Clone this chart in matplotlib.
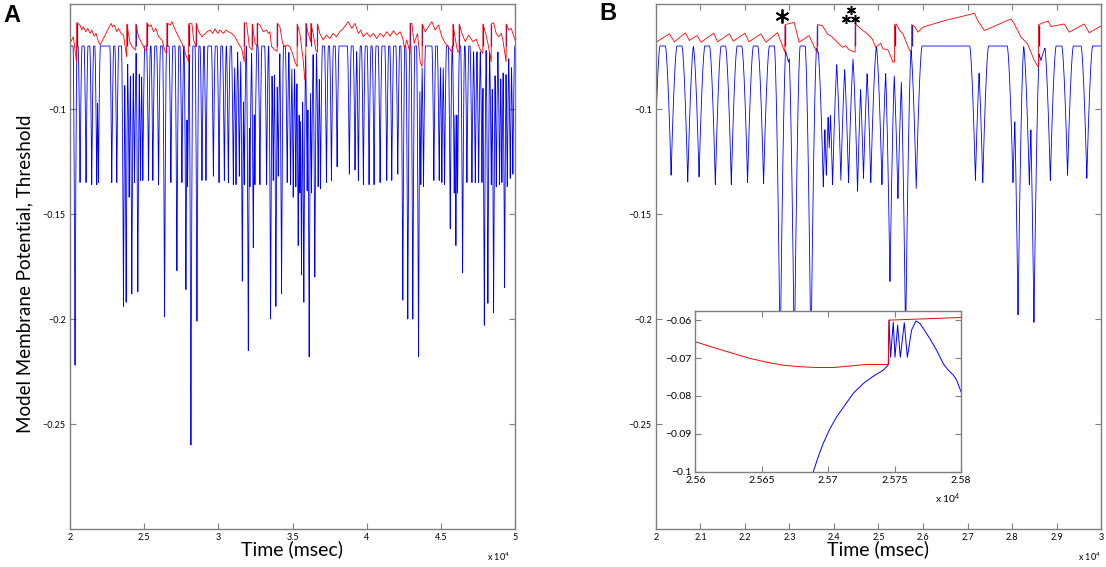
import numpy as np
import matplotlib
matplotlib.use("Agg")
import matplotlib.pyplot as plt
from matplotlib.ticker import FuncFormatter

plt.rcParams['font.family'] = ['Lato', 'DejaVu Sans']
plt.rcParams['mathtext.default'] = 'regular'

# ---------------- data ----------------
rest_level = -0.070

# panel A: membrane troughs (time ms, depth V)
trough_a_t = [20338, 20676, 21081, 21464, 21802, 21914, 22815, 23153, 23603, 23783,
              23986, 24166, 24346, 24572, 24752, 24909, 25292, 25585, 25968, 26373,
              26801, 27206, 27544, 27814, 27927, 28152, 28558, 28895, 29166, 29664,
              30045, 30404, 30673, 31009, 31189, 31412, 31614, 31749, 32018, 32130,
              32354, 32466, 32802, 33251, 33520, 33699, 33879, 34036, 34260, 34641,
              34865, 35045, 35224, 35381, 35493, 35605, 35762, 35986, 36121, 36278,
              36502, 36726, 36883, 37286, 37623, 38004, 38829, 39212, 39437, 39775,
              40158, 40495, 40901, 41351, 41689, 42094, 42432, 42770, 43108, 43491,
              43648, 43828, 44527, 44887, 45067, 45247, 45630, 45900, 46013, 46125,
              46463, 46756, 47094, 47319, 47544, 47769, 47927, 48169, 48397, 48553,
              48733, 48957, 49113, 49293, 49473, 49675, 49852]
trough_a_v = [-0.222, -0.135, -0.135, -0.136, -0.136, -0.135, -0.135, -0.135, -0.194, -0.192,
              -0.142, -0.188, -0.135, -0.187, -0.134, -0.134, -0.134, -0.134, -0.136, -0.199,
              -0.135, -0.177, -0.135, -0.186, -0.137, -0.260, -0.201, -0.134, -0.134, -0.132,
              -0.135, -0.134, -0.135, -0.136, -0.136, -0.132, -0.182, -0.136, -0.215, -0.137,
              -0.166, -0.136, -0.136, -0.136, -0.200, -0.134, -0.194, -0.132, -0.188, -0.135,
              -0.136, -0.142, -0.137, -0.165, -0.140, -0.179, -0.192, -0.139, -0.218, -0.140,
              -0.180, -0.137, -0.138, -0.135, -0.134, -0.1275, -0.131, -0.129, -0.134, -0.136,
              -0.136, -0.136, -0.135, -0.134, -0.134, -0.131, -0.191, -0.200, -0.200, -0.218,
              -0.136, -0.137, -0.134, -0.134, -0.135, -0.136, -0.157, -0.140, -0.165, -0.140,
              -0.178, -0.135, -0.135, -0.135, -0.135, -0.135, -0.203, -0.1925, -0.136, -0.197,
              -0.137, -0.136, -0.135, -0.185, -0.137, -0.133, -0.131]

# panel A: threshold
thr_a_t = [20000, 20225, 20440, 20450, 20676, 20788, 20901, 21058, 21194, 21351, 21464, 21621,
           21757, 21914, 22027, 22770, 22860, 22995, 23153, 23265, 23446, 23603, 23820, 23828,
           23941, 24054, 24279, 24430, 24436, 24617, 24842, 25067, 25175, 25180, 25337, 25472,
           25630, 25788, 25968, 26193, 26418, 26525, 26531, 26756, 26869, 27094, 27319, 27544,
           27814, 27990, 27995, 28107, 28220, 28332, 28505, 28513, 28670, 28895, 29121, 29233,
           29440, 29619, 29776, 29955, 30112, 30336, 30516, 30673, 30897, 31121, 31345, 31569,
           31745, 31749, 31906, 32085, 32280, 32287, 32466, 32615, 32623, 32803, 33027, 33251,
           33363, 33475, 33587, 33811, 33962, 33968, 34148, 34327, 34484, 34641, 34820, 35000,
           35157, 35309, 35314, 35493, 35717, 35829, 35893, 35897, 36053, 36228, 36233, 36390,
           36569, 36676, 36681, 36838, 37062, 37287, 37511, 37735, 37959, 38183, 38424, 38761,
           38987, 39212, 39437, 39595, 39775, 40000, 40225, 40450, 40676, 40901, 41126, 41351,
           41576, 41802, 42027, 42252, 42432, 42545, 42702, 42925, 42928, 43040, 43198, 43423,
           43603, 43735, 43738, 43941, 44166, 44391, 44617, 44842, 45067, 45292, 45405, 45743,
           45805, 45810, 45968, 46125, 46233, 46238, 46418, 46643, 46868, 47160, 47385, 47609,
           47829, 47834, 48013, 48170, 48390, 48395, 48550, 48730, 48909, 49066, 49178, 49398,
           49403, 49582, 49739, 50000]
thr_a_v = [-0.0687, -0.0656, -0.0775, -0.0588, -0.0600, -0.0624, -0.0608, -0.0632, -0.0616, -0.0640, -0.0624, -0.0653,
           -0.0640, -0.0679, -0.0695, -0.0592, -0.0608, -0.0600, -0.0632, -0.0616, -0.0640, -0.0648, -0.0751, -0.0595,
           -0.0640, -0.0687, -0.0711, -0.0719, -0.0595, -0.0656, -0.0687, -0.0719, -0.0722, -0.0588, -0.0608, -0.0600,
           -0.0632, -0.0616, -0.0656, -0.0671, -0.0727, -0.0735, -0.0590, -0.0600, -0.0584, -0.0624, -0.0656, -0.0687,
           -0.0743, -0.0775, -0.0595, -0.0592, -0.0595, -0.0671, -0.0703, -0.0592, -0.0632, -0.0656, -0.0640, -0.0632,
           -0.0624, -0.0640, -0.0618, -0.0640, -0.0624, -0.0640, -0.0624, -0.0632, -0.0640, -0.0656, -0.0687, -0.0711,
           -0.0775, -0.0588, -0.0592, -0.0703, -0.0719, -0.0595, -0.0687, -0.0700, -0.0592, -0.0600, -0.0632, -0.0624,
           -0.0640, -0.0632, -0.0703, -0.0719, -0.0725, -0.0592, -0.0608, -0.0687, -0.0703, -0.0695, -0.0703, -0.0735,
           -0.0775, -0.0798, -0.0595, -0.0640, -0.0767, -0.0862, -0.0830, -0.0592, -0.0640, -0.0680, -0.0592, -0.0640,
           -0.0719, -0.0730, -0.0595, -0.0640, -0.0671, -0.0648, -0.0664, -0.0640, -0.0656, -0.0632, -0.0616, -0.0584,
           -0.0616, -0.0592, -0.0640, -0.0624, -0.0656, -0.0637, -0.0656, -0.0640, -0.0664, -0.0640, -0.0656, -0.0632,
           -0.0653, -0.0627, -0.0648, -0.0632, -0.0664, -0.0711, -0.0671, -0.0735, -0.0592, -0.0592, -0.0687, -0.0640,
           -0.0775, -0.0798, -0.0595, -0.0632, -0.0608, -0.0584, -0.0624, -0.0600, -0.0656, -0.0687, -0.0695, -0.0727,
           -0.0730, -0.0595, -0.0664, -0.0727, -0.0730, -0.0595, -0.0640, -0.0679, -0.0648, -0.0679, -0.0668, -0.0711,
           -0.0735, -0.0595, -0.0640, -0.0687, -0.0775, -0.0595, -0.0589, -0.0640, -0.0656, -0.0640, -0.0671, -0.0775,
           -0.0595, -0.0624, -0.0616, -0.0671]

# panel A: spike times (threshold reset)
spike_a_t = [20450, 23828, 24436, 25180, 26531, 27995, 28513, 31749, 32287, 32623, 33968,
             35314, 35897, 36233, 36681, 42928, 43738, 45810, 46238, 47834, 48395, 49403]

# panel B: membrane troughs
trough_b_t = [19960, 20340, 20714, 20968, 21334, 21693, 22058, 22418, 22791, 22978,
              23109, 23482, 23703, 23760, 23827, 23894, 23968, 24154, 24327, 24529,
              24663, 24827, 25078, 25258, 25437, 25609, 25848, 27178, 27343, 28022,
              28083, 28135, 28389, 28440, 28493, 28650, 28861, 29248, 29681]
trough_b_v = [-0.135, -0.1315, -0.1347, -0.1323, -0.136, -0.136, -0.135, -0.1355, -0.22, -0.0777,
              -0.22, -0.22, -0.0777, -0.137, -0.1315, -0.1185, -0.136, -0.1339, -0.135, -0.1391,
              -0.133, -0.135, -0.136, -0.1821, -0.1426, -0.21, -0.1378, -0.1339, -0.135, -0.135,
              -0.1062, -0.198, -0.136, -0.1047, -0.2016, -0.0769, -0.134, -0.1315, -0.133]

# panel B: threshold
thr_b_t = [20000, 20303, 20415, 20661, 20751, 20923, 21013, 21297, 21386, 21648, 21738, 21999,
           22089, 22358, 22470, 22731, 22895, 22900, 23105, 23217, 23441, 23622, 23628, 23740,
           23852, 23965, 24114, 24189, 24264, 24338, 24475, 24480, 24600, 24749, 24861, 24936,
           25048, 25101, 25213, 25325, 25357, 25362, 25399, 25474, 25549, 25624, 25698, 25741,
           25746, 25811, 25885, 25997, 26483, 26856, 27156, 27231, 27380, 27978, 28053, 28202,
           28351, 28501, 28593, 28598, 28725, 28815, 28874, 29174, 29286, 29622, 29734, 30000]
thr_b_v = [-0.0682, -0.0642, -0.0680, -0.0637, -0.0674, -0.0650, -0.0682, -0.0639, -0.0680, -0.0642, -0.0677, -0.0639,
           -0.0680, -0.0642, -0.0682, -0.0636, -0.0729, -0.0598, -0.0587, -0.0682, -0.0650, -0.0734, -0.0598, -0.0603,
           -0.0642, -0.0658, -0.0690, -0.0706, -0.0698, -0.0718, -0.0729, -0.0595, -0.0618, -0.0642, -0.0666, -0.0706,
           -0.0687, -0.0713, -0.0718, -0.0777, -0.0777, -0.0598, -0.0595, -0.0626, -0.0642, -0.0682, -0.0721, -0.0722,
           -0.0598, -0.0607, -0.0634, -0.0610, -0.0579, -0.0560, -0.0544, -0.0579, -0.0626, -0.0571, -0.0595, -0.0658,
           -0.0690, -0.0769, -0.0801, -0.0598, -0.0587, -0.0582, -0.0607, -0.0595, -0.0634, -0.0595, -0.0637, -0.0604]

spike_b_t = [22900, 23628, 24480, 25362, 25746, 28598]

# asterisks above panel B
star_big_t, star_big_v = [22842], [-0.0555]
star_small_t = [24374, 24262, 24471]
star_small_v = [-0.0529, -0.0573, -0.0573]

# inset (zoom of panel B)
inset_vm_t = [25688.8, 25692.6, 25696.3, 25701.4, 25706.4, 25712.7, 25718.9, 25726.5, 25734.0,
              25741.5, 25745.3, 25745.8, 25747.0, 25749.0, 25750.3, 25752.3, 25754.3, 25757.3,
              25759.6, 25762.8, 25766.1, 25769.1, 25771.6, 25776.6, 25781.7, 25786.7, 25790.4,
              25794.2, 25796.7, 25800.0]
inset_vm_v = [-0.1000, -0.0960, -0.0925, -0.0886, -0.0855, -0.0824, -0.0793, -0.0767, -0.0748,
              -0.0732, -0.0718, -0.0600, -0.0698, -0.0605, -0.0698, -0.0613, -0.0698, -0.0607,
              -0.0698, -0.0626, -0.0602, -0.0609, -0.0622, -0.0649, -0.0680, -0.0715, -0.0732,
              -0.0745, -0.0758, -0.0789]
inset_thr_t = [25600, 25616.1, 25628.6, 25641.1, 25653.7, 25666.2, 25678.8, 25691.3, 25703.9,
               25716.4, 25729.0, 25745.3, 25745.8, 25800]
inset_thr_v = [-0.0657, -0.0675, -0.0688, -0.0701, -0.0711, -0.0719, -0.0723, -0.0725, -0.0725,
               -0.0721, -0.0717, -0.0717, -0.0600, -0.0593]

xticks_a = [20000, 25000, 30000, 35000, 40000, 45000, 50000]
xticks_b = [20000, 21000, 22000, 23000, 24000, 25000, 26000, 27000, 28000, 29000, 30000]
yticks_main = [-0.25, -0.2, -0.15, -0.1]
xticks_in = [25600, 25650, 25700, 25750, 25800]
yticks_in = [-0.1, -0.09, -0.08, -0.07, -0.06]


def membrane(t, tt, tv, half_width=130.0):
    # each trough drawn as a sharp cusp with rounded shoulders back to rest
    v = np.full(t.shape, rest_level)
    for t0, d in zip(tt, tv):
        s = np.clip(1 - np.abs(t - t0) / half_width, 0, None) ** 1.6
        v = np.minimum(v, rest_level + (d - rest_level) * s)
    return v


xfmt = FuncFormatter(lambda v, p: f"{v / 1e4:g}")
yfmt = FuncFormatter(lambda v, p: ("\u2212" if v < 0 else "") + f"{abs(v):g}")
GRAY = '#7f7f7f'


def style(ax, xticks, yticks, lsize):
    ax.set_xticks(xticks)
    ax.set_yticks(yticks)
    ax.xaxis.set_major_formatter(xfmt)
    ax.yaxis.set_major_formatter(yfmt)
    ax.tick_params(direction='in', length=4, width=0.8, color=GRAY, labelsize=lsize,
                   top=True, right=True, pad=3)
    for s in ax.spines.values():
        s.set_color(GRAY)
        s.set_linewidth(1.0)


fig = plt.figure(figsize=(11.06, 5.67), dpi=100)
axA = fig.add_axes([0.0633, 0.0670, 0.4024, 0.9259])
axB = fig.add_axes([0.5931, 0.0670, 0.4024, 0.9259])

# ---- panel A ----
tA = np.union1d(np.arange(20000, 50001, 3.0), trough_a_t)
axA.plot(tA, membrane(tA, trough_a_t, trough_a_v), color='#0000ff', lw=0.6)
peaks_a = np.interp(spike_a_t, thr_a_t, thr_a_v)
axA.vlines(spike_a_t, rest_level, peaks_a, color='#2020c0', lw=0.9)
axA.plot(thr_a_t, thr_a_v, color='#ff0000', lw=0.6)
axA.set_xlim(20000, 50000)
axA.set_ylim(-0.3, -0.05)
style(axA, xticks_a, yticks_main, 6.5)

# ---- panel B ----
tB = np.union1d(np.arange(20000, 30001, 2.0), trough_b_t)
tB = tB[tB >= 20000]
axB.plot(tB, membrane(tB, trough_b_t, trough_b_v), color='#0000ff', lw=0.6)
peaks_b = np.interp(spike_b_t, thr_b_t, thr_b_v)
axB.vlines(spike_b_t, rest_level, peaks_b, color='#2020c0', lw=1.0)
axB.plot(thr_b_t, thr_b_v, color='#ff0000', lw=0.6)
axB.plot(star_big_t, star_big_v, ls='none', marker=(6, 2, 0), ms=10, mew=1.3, color='black',
         clip_on=False)
axB.plot(star_small_t, star_small_v, ls='none', marker=(6, 2, 0), ms=6.5, mew=1.1, color='black',
         clip_on=False)
axB.set_xlim(20000, 30000)
axB.set_ylim(-0.3, -0.05)
style(axB, xticks_b, yticks_main, 6.5)

# ---- inset ----
axI = fig.add_axes([0.6287, 0.1681, 0.2402, 0.2840])
axI.plot(inset_vm_t, inset_vm_v, color='#0000ff', lw=0.7)
axI.plot(inset_thr_t, inset_thr_v, color='#ff0000', lw=0.7)
axI.set_xlim(25600, 25800)
axI.set_ylim(-0.1, -0.0575)
style(axI, xticks_in, yticks_in, 7.5)

# ---- labels ----
fig.text(292 / 1106, 1 - 549 / 567, 'Time (msec)', ha='center', va='center', fontsize=14)
fig.text(878 / 1106, 1 - 549 / 567, 'Time (msec)', ha='center', va='center', fontsize=14)
fig.text(25 / 1106, 1 - 274 / 567, 'Model Membrane Potential, Threshold', rotation=90,
         ha='center', va='center', fontsize=13.5)
fig.text(510 / 1106, 1 - 557 / 567, r'x 10$^4$', ha='right', va='center', fontsize=6.5)
fig.text(1101 / 1106, 1 - 557 / 567, r'x 10$^4$', ha='right', va='center', fontsize=6.5)
fig.text(961 / 1106, 1 - 499 / 567, r'x 10$^4$', ha='right', va='center', fontsize=7.5)
fig.text(12 / 1106, 1 - 15 / 567, 'A', ha='center', va='center', fontsize=17,
         fontweight='bold', family=['Liberation Sans', 'DejaVu Sans'])
fig.text(608 / 1106, 1 - 14 / 567, 'B', ha='center', va='center', fontsize=17,
         fontweight='bold', family=['Liberation Sans', 'DejaVu Sans'])

fig.savefig('out.png', dpi=100)
